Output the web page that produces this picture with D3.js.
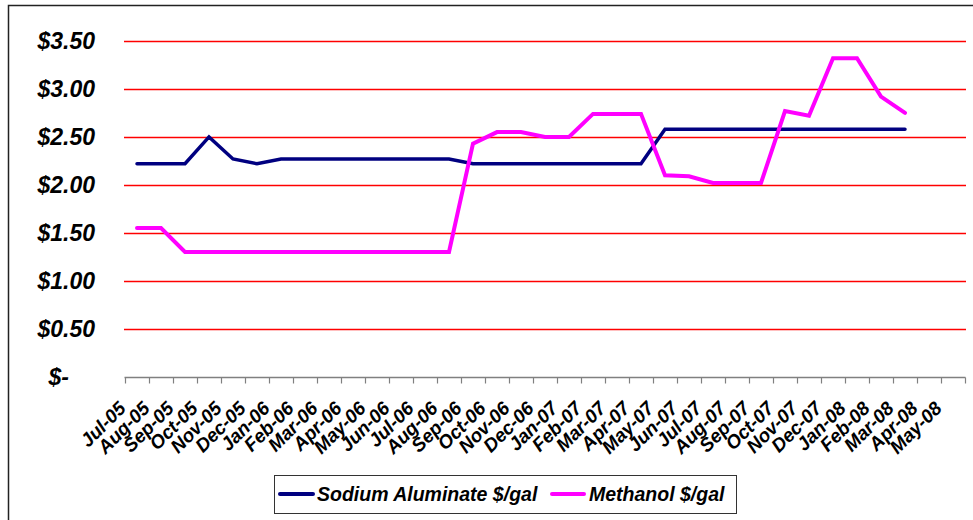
<!DOCTYPE html>
<html>
<head>
<meta charset="utf-8">
<script src="https://cdn.jsdelivr.net/npm/d3@7"></script>
<style>
  html, body { margin: 0; padding: 0; background: #fff; }
  svg { display: block; }
  text { font-family: "Liberation Sans", Arial, sans-serif; font-weight: bold; font-style: italic; fill: #000; }
</style>
</head>
<body>
<svg id="chart" width="973" height="520"></svg>
<script>
// Monthly price history, Jul-05 to May-08
const months = ["Jul-05","Aug-05","Sep-05","Oct-05","Nov-05","Dec-05","Jan-06","Feb-06","Mar-06","Apr-06",
  "May-06","Jun-06","Jul-06","Aug-06","Sep-06","Oct-06","Nov-06","Dec-06","Jan-07","Feb-07","Mar-07",
  "Apr-07","May-07","Jun-07","Jul-07","Aug-07","Sep-07","Oct-07","Nov-07","Dec-07","Jan-08","Feb-08",
  "Mar-08","Apr-08","May-08"];

const sodiumAluminate = [2.22,2.22,2.22,2.50,2.27,2.22,2.27,2.27,2.27,2.27,2.27,2.27,2.27,2.27,
  2.22,2.22,2.22,2.22,2.22,2.22,2.22,2.22,2.58,2.58,2.58,2.58,2.58,2.58,2.58,2.58,2.58,2.58,2.58];

const methanol = [1.55,1.55,1.30,1.30,1.30,1.30,1.30,1.30,1.30,1.30,1.30,1.30,1.30,1.30,
  2.43,2.55,2.55,2.50,2.50,2.74,2.74,2.74,2.10,2.09,2.02,2.02,2.02,2.77,2.72,3.32,3.32,2.92,2.75];

const yTickValues = [0, 0.5, 1.0, 1.5, 2.0, 2.5, 3.0, 3.5];
const yTickLabels = ["$-", "$0.50", "$1.00", "$1.50", "$2.00", "$2.50", "$3.00", "$3.50"];

const seriesNames = ["Sodium Aluminate $/gal", "Methanol $/gal"];
const seriesColors = ["#000080", "#FF00FF"];

const svg = d3.select("#chart");

// Chart area frame
svg.append("rect")
  .attr("x", 8.5).attr("y", 5.5)
  .attr("width", 990).attr("height", 540)
  .attr("fill", "#fff").attr("stroke", "#222").attr("stroke-width", 1.5);

const x = d3.scaleBand().domain(months).range([125, 965]).padding(0);
const y = d3.scaleLinear().domain([0, 3.5]).range([376.7, 41]);
const cx = d => x(d) + x.bandwidth() / 2;

// Horizontal gridlines
svg.append("g").attr("class", "grid").selectAll("line")
  .data(yTickValues.filter(v => v > 0))
  .join("line")
  .attr("x1", 124).attr("x2", 966)
  .attr("y1", d => Math.round(y(d)) + 0.5).attr("y2", d => Math.round(y(d)) + 0.5)
  .style("stroke", "rgb(255,0,0)").style("stroke-width", "1.5px");

// Y axis labels
svg.append("g").selectAll("text")
  .data(yTickValues)
  .join("text")
  .attr("x", d => d === 0 ? 69 : 95)
  .attr("y", d => y(d))
  .attr("dy", "0.36em")
  .attr("text-anchor", "end")
  .style("font-size", "23px")
  .text((d, i) => yTickLabels[i]);

// Category axis: line plus ticks between categories
const xAxisY = Math.round(y(0)) + 0.5;
const axisG = svg.append("g");
axisG.append("line")
  .attr("x1", 124.5).attr("x2", 965.5)
  .attr("y1", xAxisY).attr("y2", xAxisY)
  .style("stroke", "#808080").style("stroke-width", "1.5px");
axisG.selectAll("line.tick")
  .data(months.map(m => x(m)).concat([x.range()[1]]))
  .join("line")
  .attr("class", "tick")
  .attr("x1", d => Math.round(d) + 0.5).attr("x2", d => Math.round(d) + 0.5)
  .attr("y1", xAxisY).attr("y2", xAxisY + 6)
  .style("stroke", "#808080").style("stroke-width", "1.2px");

axisG.selectAll("text")
  .data(months)
  .join("text")
  .attr("transform", d => `translate(${cx(d) - 10},${xAxisY + 32}) rotate(-45)`)
  .attr("text-anchor", "end")
  .style("font-size", "19px")
  .text(d => d);

// Series lines
const line = d3.line()
  .x((d, i) => cx(months[i]))
  .y(d => y(d));

[sodiumAluminate, methanol].forEach((vals, k) => {
  svg.append("path")
    .datum(vals)
    .attr("d", line)
    .attr("fill", "none")
    .style("stroke", seriesColors[k])
    .style("stroke-width", k === 0 ? "3.5px" : "4px")
    .attr("stroke-linejoin", "miter")
    .attr("stroke-linecap", "round");
});

// Legend
const legend = svg.append("g");
legend.append("rect")
  .attr("x", 274.5).attr("y", 475.5)
  .attr("width", 462).attr("height", 38)
  .attr("fill", "#fff").style("stroke", "#333").style("stroke-width", "1px");

const legendItems = [
  { x0: 280, x1: 313, tx: 317 },
  { x0: 552, x1: 584, tx: 589 }
];
legendItems.forEach((it, k) => {
  legend.append("line")
    .attr("x1", it.x0).attr("x2", it.x1)
    .attr("y1", 494).attr("y2", 494)
    .style("stroke", seriesColors[k]).style("stroke-width", "4px")
    .attr("stroke-linecap", "round");
  legend.append("text")
    .attr("x", it.tx).attr("y", 494)
    .attr("dy", "0.36em")
    .style("font-size", "19.5px")
    .text(seriesNames[k]);
});
</script>
</body>
</html>
